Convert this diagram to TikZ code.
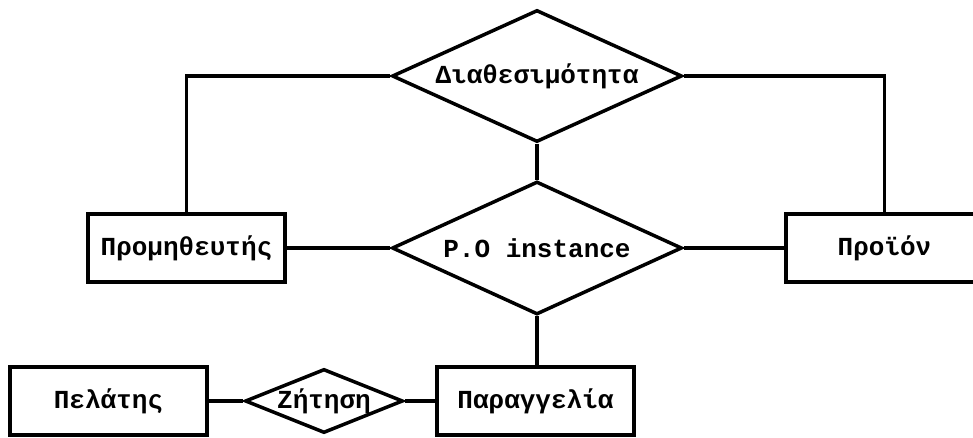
\documentclass[tikz,border=0pt]{standalone}
\usepackage{fontspec}
\newfontfamily\erfont{Liberation Mono}
\usetikzlibrary{shapes.geometric}
\begin{document}
\begin{tikzpicture}[x=1pt,y=-1pt,
  every node/.style={font=\erfont\bfseries\fontsize{26}{30}\selectfont},
  entity/.style={draw, line width=3.5pt, rectangle, minimum width=197pt, minimum height=68pt, inner sep=0pt, fill=white},
  relation/.style={draw, line width=3.5pt, diamond, inner sep=0pt, fill=white, miter limit=20},
  link/.style={line width=3.5pt}
]
\useasboundingbox (0,0) rectangle (973,438);

% relationships
\node[relation, minimum width=290pt, minimum height=132pt, label=center:{Διαθεσιμότητα}] (avail) at (537,76) {};
\node[relation, minimum width=290pt, minimum height=133pt, label=center:{P.O instance}] (po) at (537,248) {};
\node[relation, minimum width=158pt, minimum height=64pt, label=center:{Ζήτηση}] (ask) at (324,401) {};

% entities
\node[entity] (supp) at (186.5,248) {Προμηθευτής};
\node[entity] (prod) at (884.5,248) {Προϊόν};
\node[entity] (cust) at (108.5,401) {Πελάτης};
\node[entity] (order) at (535.5,401) {Παραγγελία};

% connectors
\draw[link] (avail.west) -| (supp.north);
\draw[link] (avail.east) -| (prod.north);
\draw[link] (avail.south) -- (po.north);
\draw[link] (supp.east) -- (po.west);
\draw[link] (po.east) -- (prod.west);
\draw[link] (po.south) -- (po.south |- order.north);
\draw[link] (cust.east) -- (ask.west);
\draw[link] (ask.east) -- (order.west);
\end{tikzpicture}
\end{document}
